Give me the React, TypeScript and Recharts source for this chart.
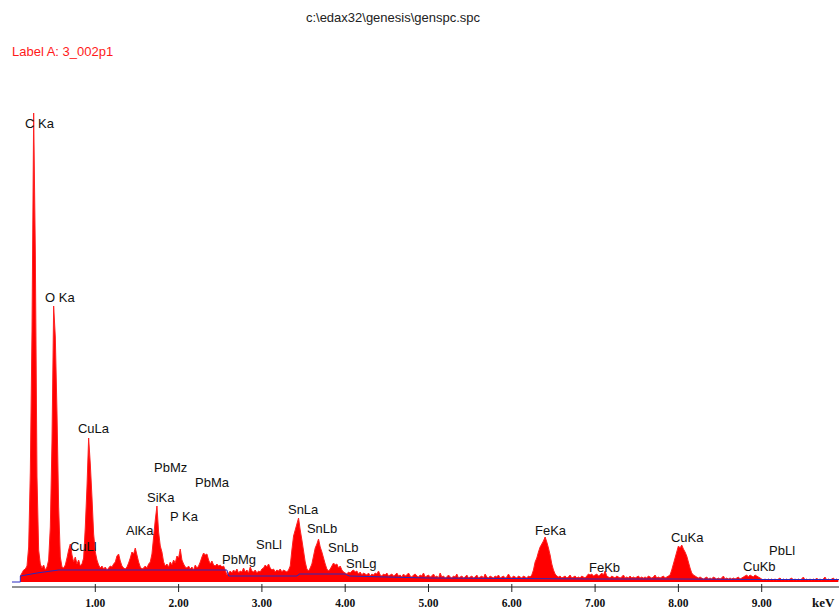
import React from 'react'
import { ComposedChart, Area, Line, XAxis, YAxis, ReferenceDot } from 'recharts'

// spectrum channels, 0.02 keV apart starting at 0.10 keV (counts)
const START_KEV = 0.1
const STEP_KEV = 0.02
const counts = [
  6, 9, 12, 13, 16, 35, 110, 250, 469, 330, 105, 32, 18, 14, 17, 12, 15, 22, 55, 140, 276, 245, 170, 75, 25,
  15, 14, 17, 24, 32, 38, 27, 20, 25, 18, 22, 16, 18, 24, 55, 95, 144, 118, 85, 48, 30, 22, 17, 14, 16,
  13, 15, 12, 14, 16, 15, 18, 20, 26, 28, 21, 16, 14, 13, 15, 19, 24, 30, 28, 34, 27, 20, 15, 13, 14,
  16, 14, 18, 20, 28, 45, 62, 76, 50, 36, 30, 20, 16, 18, 15, 20, 17, 22, 19, 26, 24, 33, 22, 18, 15,
  14, 16, 13, 15, 12, 17, 14, 16, 20, 25, 29, 27, 28, 22, 18, 21, 17, 16, 18, 16, 17, 15, 16, 12, 7,
  9, 11, 9, 12, 10, 13, 9, 11, 10, 14, 10, 12, 9, 15, 11, 10, 12, 9, 11, 10, 13, 14, 17, 15, 18,
  14, 12, 13, 10, 12, 11, 13, 10, 12, 11, 10, 12, 16, 32, 46, 52, 58, 64, 52, 42, 31, 20, 13, 11, 14,
  18, 26, 34, 38, 43, 35, 30, 24, 18, 13, 11, 13, 16, 19, 17, 18, 14, 16, 12, 10, 9, 8, 10, 9, 11,
  12, 10, 11, 8, 10, 7, 9, 8, 7, 9, 6, 8, 7, 9, 8, 11, 7, 6, 8, 7, 9, 6, 7, 8, 6,
  7, 9, 6, 7, 5, 8, 6, 7, 9, 6, 5, 7, 8, 6, 5, 7, 6, 9, 5, 6, 7, 5, 6, 8, 5,
  6, 4, 9, 5, 6, 4, 5, 7, 5, 4, 6, 5, 8, 4, 5, 6, 4, 5, 7, 4, 5, 6, 4, 5, 7,
  4, 5, 6, 4, 8, 5, 4, 6, 5, 4, 6, 5, 7, 4, 5, 6, 4, 5, 8, 5, 4, 6, 5, 4, 6,
  5, 4, 6, 5, 4, 6, 5, 7, 12, 20, 24, 30, 35, 38, 41, 45, 40, 34, 27, 18, 12, 8, 6, 5, 6,
  4, 5, 6, 4, 5, 7, 4, 5, 6, 4, 5, 4, 6, 5, 4, 6, 8, 7, 8, 6, 7, 8, 6, 7, 9,
  7, 11, 6, 5, 4, 6, 5, 4, 6, 5, 4, 5, 7, 4, 5, 4, 6, 4, 5, 4, 5, 6, 4, 5, 4,
  5, 4, 6, 5, 4, 5, 7, 4, 5, 4, 5, 6, 4, 5, 6, 7, 12, 18, 24, 30, 36, 34, 37, 33, 30,
  26, 20, 14, 9, 7, 6, 5, 4, 5, 4, 3, 4, 5, 3, 4, 3, 5, 4, 3, 4, 3, 4, 6, 3, 4,
  3, 4, 3, 4, 3, 4, 5, 3, 4, 5, 6, 7, 5, 7, 6, 5, 7, 6, 5, 4, 3, 2, 3, 2, 3,
  2, 3, 2, 3, 2, 3, 4, 2, 3, 2, 3, 2, 3, 4, 2, 3, 2, 3, 2, 3, 5, 2, 3, 2, 3,
  2, 3, 2, 4, 2, 3, 2, 3, 5, 2, 3, 2, 3, 4, 2, 3, 2,
]

// fitted background (blue line)
const bgKev = [0, 0.1, 0.1, 0.3, 0.56, 1.2, 2.0, 2.58, 2.6, 3.0, 3.42, 3.45, 4.0, 4.05, 4.5, 5.0, 6.0, 7.0, 8.0, 9.0, 9.93]
const bgCounts = [0, 0, 6, 9, 12, 12, 12, 12, 6, 6, 6, 8, 8, 6, 5, 4, 3.5, 3, 3, 2.5, 2.5]

// peak labels: name, left edge (keV), vertical centre (counts)
const peakNames = ['C Ka', 'O Ka', 'CuLa', 'CuLl', 'AlKa', 'SiKa', 'PbMz', 'P Ka', 'PbMa', 'PbMg', 'SnLl', 'SnLa', 'SnLb', 'SnLb', 'SnLg', 'FeKa', 'FeKb', 'CuKa', 'PbLl', 'CuKb']
const peakKev = [0.156, 0.396, 0.792, 0.696, 1.369, 1.621, 1.705, 1.897, 2.197, 2.521, 2.929, 3.313, 3.541, 3.794, 4.01, 6.279, 6.927, 7.911, 9.088, 8.776]
const peakY = [459, 285, 154, 36, 52, 85, 115, 66, 100, 23, 38, 73, 54, 35, 19, 52, 15, 45, 32, 16]

const xTicks = [1, 2, 3, 4, 5, 6, 7, 8, 9]

const spectrum = counts.map((c, i) => ({ kev: +(START_KEV + i * STEP_KEV).toFixed(2), counts: c }))
const background = bgKev.map((k, i) => ({ kev: k, counts: bgCounts[i] }))

const AxisTick = (props: any) => {
  const { x, y, payload } = props
  return (
    <g>
      <line x1={x} x2={x} y1={y - 3} y2={y + 5} stroke="#222" />
      <text
        x={x}
        y={y + 16}
        textAnchor="middle"
        dominantBaseline="central"
        fontFamily="'Liberation Serif', serif"
        fontWeight="bold"
        fontSize={11.5}
        fill="#111"
      >
        {payload.value.toFixed(2)}
      </text>
    </g>
  )
}

const peakLabel = (text: string) => (props: any) => {
  const vb = props.viewBox || {}
  return (
    <text
      x={vb.x + (vb.width || 0) / 2}
      y={vb.y + (vb.height || 0) / 2}
      dominantBaseline="central"
      fontFamily="'Liberation Sans', Arial, sans-serif"
      fontSize={13}
      fill="#111"
    >
      {text}
    </text>
  )
}

export default function App() {
  return (
    <div style={{ position: 'absolute', left: 0, top: 0, width: 839, height: 609, background: '#fff' }}>
      <div
        style={{
          position: 'absolute',
          left: 0,
          width: 786,
          top: 10,
          textAlign: 'center',
          fontFamily: "'Liberation Sans', Arial, sans-serif",
          fontSize: 13,
          color: '#222',
        }}
      >
        c:\edax32\genesis\genspc.spc
      </div>
      <div
        style={{
          position: 'absolute',
          left: 12,
          top: 44,
          fontFamily: "'Liberation Sans', Arial, sans-serif",
          fontSize: 13,
          color: '#ff1a1a',
        }}
      >
        Label A: 3_002p1
      </div>
      <ComposedChart width={839} height={609} data={spectrum} margin={{ top: 100, right: 0, bottom: 0, left: 12 }}>
        <XAxis
          dataKey="kev"
          type="number"
          domain={[0, 9.928]}
          allowDataOverflow
          ticks={xTicks}
          height={22}
          tickSize={0}
          tickMargin={0}
          tickLine={false}
          axisLine={{ stroke: '#222' }}
          tick={<AxisTick />}
          interval={0}
        />
        <YAxis hide type="number" domain={[-5, 482]} allowDataOverflow />
        <Area
          type="linear"
          dataKey="counts"
          fill="#ff0000"
          fillOpacity={1}
          stroke="#ff2020"
          strokeWidth={1}
          dot={false}
          activeDot={false}
          isAnimationActive={false}
        />
        <Line
          data={background}
          type="linear"
          dataKey="counts"
          stroke="#2828c0"
          strokeWidth={1}
          dot={false}
          activeDot={false}
          isAnimationActive={false}
        />
        {peakNames.map((name, i) => (
          <ReferenceDot
            key={name + i}
            x={peakKev[i]}
            y={peakY[i]}
            r={0}
            fill="none"
            stroke="none"
            label={peakLabel(name)}
          />
        ))}
      </ComposedChart>
      <div
        style={{
          position: 'absolute',
          left: 812,
          top: 595,
          fontFamily: "'Liberation Serif', serif",
          fontWeight: 'bold',
          fontSize: 13,
          color: '#111',
        }}
      >
        keV
      </div>
    </div>
  )
}
